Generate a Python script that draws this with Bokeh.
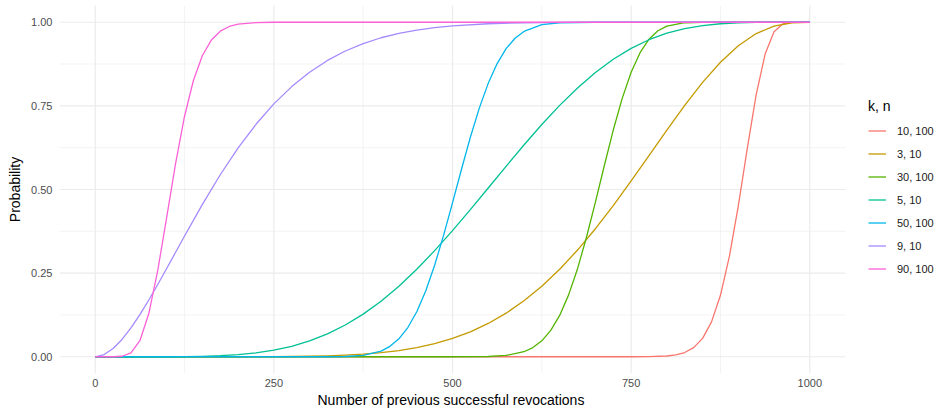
from bokeh.plotting import figure
from bokeh.models import Range1d, FixedTicker, Legend, LegendItem, NumeralTickFormatter, Title
from bokeh.embed import file_html
from bokeh.resources import INLINE

# ---- data ----
series_labels = ["10, 100", "3, 10", "30, 100", "5, 10", "50, 100", "9, 10", "90, 100"]
series_colors = ["#F8766D", "#C49A00", "#53B400", "#00C094", "#00B6EB", "#A58AFF", "#FB61D7"]

x_k10_n100 = [0, 750, 775, 800, 812.5, 825, 837.5, 850, 862.5, 875, 887.5, 900, 912.5, 925, 937.5, 950, 962.5, 975, 987.5, 1000]
y_k10_n100 = [0.0, 0.0000, 0.0003, 0.0023, 0.0056, 0.0127, 0.0273, 0.0551, 0.1042, 0.1837, 0.3000, 0.4513, 0.6220, 0.7833, 0.9047, 0.9718, 0.9953, 0.9998, 1.0, 1.0]

x_k3_n10 = [0, 200, 250, 300, 325, 350, 375, 400, 425, 450, 475, 500, 525, 550, 575, 600, 625, 650, 675, 700, 725, 750, 775, 800, 825, 850, 875, 900, 925, 950, 975, 1000]
y_k3_n10 = [0.0, 0.0001, 0.0004, 0.0016, 0.0028, 0.0048, 0.0078, 0.0123, 0.0186, 0.0274, 0.0392, 0.0547, 0.0746, 0.0996, 0.1303, 0.1673, 0.2110, 0.2616, 0.3190, 0.3828, 0.4521, 0.5256, 0.6016, 0.6778, 0.7516, 0.8202, 0.8805, 0.9298, 0.9661, 0.9885, 0.9984, 1.0]

x_k30_n100 = [0, 500, 550, 575, 600, 612.5, 625, 637.5, 650, 662.5, 675, 687.5, 700, 712.5, 725, 737.5, 750, 762.5, 775, 787.5, 800, 825, 850, 900, 1000]
y_k30_n100 = [0.0, 0.0, 0.0008, 0.0039, 0.0151, 0.0275, 0.0477, 0.0788, 0.1237, 0.1850, 0.2633, 0.3572, 0.4623, 0.5718, 0.6777, 0.7724, 0.8503, 0.9090, 0.9493, 0.9744, 0.9885, 0.9985, 0.9998, 1.0, 1.0]

x_k5_n10 = [0, 50, 100, 125, 150, 175, 200, 225, 250, 275, 300, 325, 350, 375, 400, 425, 450, 475, 500, 525, 550, 575, 600, 625, 650, 675, 700, 725, 750, 775, 800, 825, 850, 875, 900, 925, 950, 1000]
y_k5_n10 = [0.0, 0.0000, 0.0001, 0.0005, 0.0014, 0.0032, 0.0064, 0.0116, 0.0197, 0.0314, 0.0473, 0.0683, 0.0949, 0.1275, 0.1662, 0.2110, 0.2616, 0.3172, 0.3770, 0.4398, 0.5044, 0.5693, 0.6331, 0.6943, 0.7515, 0.8036, 0.8497, 0.8892, 0.9219, 0.9477, 0.9672, 0.9810, 0.9901, 0.9955, 0.9984, 0.9996, 0.9999, 1.0]

x_k50_n100 = [0, 300, 325, 350, 375, 400, 412.5, 425, 437.5, 450, 462.5, 475, 487.5, 500, 512.5, 525, 537.5, 550, 562.5, 575, 587.5, 600, 625, 650, 700, 1000]
y_k50_n100 = [0.0, 0.0, 0.0001, 0.0008, 0.0042, 0.0170, 0.0311, 0.0537, 0.0874, 0.1346, 0.1968, 0.2736, 0.3628, 0.4602, 0.5599, 0.6561, 0.7432, 0.8173, 0.8765, 0.9209, 0.9521, 0.9726, 0.9926, 0.9985, 1.0, 1.0]

x_k9_n10 = [0, 12.5, 25, 37.5, 50, 62.5, 75, 87.5, 100, 112.5, 125, 150, 175, 200, 225, 250, 275, 300, 325, 350, 375, 400, 425, 450, 475, 500, 550, 600, 650, 700, 800, 1000]
y_k9_n10 = [0.0, 0.0066, 0.0246, 0.0518, 0.0861, 0.1259, 0.1696, 0.2159, 0.2639, 0.3125, 0.3611, 0.4557, 0.5441, 0.6242, 0.6949, 0.7560, 0.8076, 0.8507, 0.8858, 0.9140, 0.9363, 0.9536, 0.9668, 0.9767, 0.9840, 0.9893, 0.9955, 0.9983, 0.9995, 0.9999, 1.0, 1.0]

x_k90_n100 = [0, 25, 37.5, 50, 62.5, 75, 87.5, 100, 112.5, 125, 137.5, 150, 162.5, 175, 187.5, 200, 225, 250, 1000]
y_k90_n100 = [0.0, 0.0001, 0.0016, 0.0115, 0.0480, 0.1293, 0.2580, 0.4169, 0.5784, 0.7190, 0.8266, 0.9005, 0.9467, 0.9732, 0.9873, 0.9943, 0.9990, 0.9999, 1.0]

series_x = [x_k10_n100, x_k3_n10, x_k30_n100, x_k5_n10, x_k50_n100, x_k9_n10, x_k90_n100]
series_y = [y_k10_n100, y_k3_n10, y_k30_n100, y_k5_n10, y_k50_n100, y_k9_n10, y_k90_n100]

x_ticks = [0, 250, 500, 750, 1000]
x_minor = [125, 375, 625, 875]
y_ticks = [0, 0.25, 0.5, 0.75, 1.0]
y_minor = [0.125, 0.375, 0.625, 0.875]

# panel (data) limits, as in the reference: 5% expansion
x_lo, x_hi = -50, 1050
y_lo, y_hi = -0.05, 1.05

FONT = "Liberation Sans"

# The frame spans the panel plus the legend area; px per x unit = 786/1100
x_view_hi = x_lo + (940 - 59) * (x_hi - x_lo) / 786.0

p = figure(width=940, height=410,
           x_range=Range1d(x_lo, x_view_hi), y_range=Range1d(y_lo, y_hi),
           output_backend="svg", toolbar_location=None,
           min_border_left=59, min_border_right=0, min_border_top=5, min_border_bottom=37)
p.outline_line_color = None
p.background_fill_color = "white"
p.border_fill_color = "white"
p.xgrid.visible = False
p.ygrid.visible = False

# grid lines limited to the panel
p.segment(x0=x_minor, x1=x_minor, y0=[y_lo] * len(x_minor), y1=[y_hi] * len(x_minor),
          line_color="#F0F0F0", line_width=0.8)
p.segment(x0=[x_lo] * len(y_minor), x1=[x_hi] * len(y_minor), y0=y_minor, y1=y_minor,
          line_color="#F0F0F0", line_width=0.8)
p.segment(x0=x_ticks, x1=x_ticks, y0=[y_lo] * len(x_ticks), y1=[y_hi] * len(x_ticks),
          line_color="#EBEBEB", line_width=1.2)
p.segment(x0=[x_lo] * len(y_ticks), x1=[x_hi] * len(y_ticks), y0=y_ticks, y1=y_ticks,
          line_color="#EBEBEB", line_width=1.2)

items = []
for lab, col, xs, ys in zip(series_labels, series_colors, series_x, series_y):
    r = p.line(xs, ys, line_color=col, line_width=1.3, line_join="round")
    items.append(LegendItem(label=lab, renderers=[r]))

# axes
p.xaxis.ticker = FixedTicker(ticks=x_ticks, minor_ticks=x_minor)
p.yaxis.ticker = FixedTicker(ticks=y_ticks, minor_ticks=y_minor)
p.yaxis.formatter = NumeralTickFormatter(format="0.00")
p.yaxis.axis_label = "Probability"
for ax in p.axis:
    ax.axis_line_color = None
    ax.major_tick_line_color = None
    ax.minor_tick_line_color = None
    ax.major_tick_out = 0
    ax.major_tick_in = 0
    ax.minor_tick_out = 0
    ax.minor_tick_in = 0
    ax.major_label_text_font = FONT
    ax.major_label_text_font_size = "11px"
    ax.major_label_text_color = "#4D4D4D"
    ax.axis_label_text_font = FONT
    ax.axis_label_text_font_size = "14px"
    ax.axis_label_text_font_style = "normal"
    ax.axis_label_text_color = "black"
p.xaxis.major_label_standoff = 5
p.yaxis.major_label_standoff = 7
p.yaxis.axis_label_standoff = 5

# x-axis title centred under the panel (not under the whole frame)
x_title = Title(text="Number of previous successful revocations", align="left", offset=258,
                text_font=FONT, text_font_size="14px", text_font_style="normal",
                text_color="black", standoff=0)
p.add_layout(x_title, "below")

legend = Legend(items=items, location=(809, 93), title="k, n",
                title_text_font=FONT, title_text_font_size="14px", title_text_color="black",
                title_text_font_style="normal", title_standoff=5,
                label_text_font=FONT, label_text_font_size="11px", label_text_color="#1A1A1A",
                glyph_width=18, glyph_height=23, label_height=23, label_standoff=11,
                spacing=0, padding=0, margin=0,
                border_line_color=None, background_fill_alpha=0)
p.add_layout(legend)

open("out.html", "w").write(file_html(p, INLINE))
